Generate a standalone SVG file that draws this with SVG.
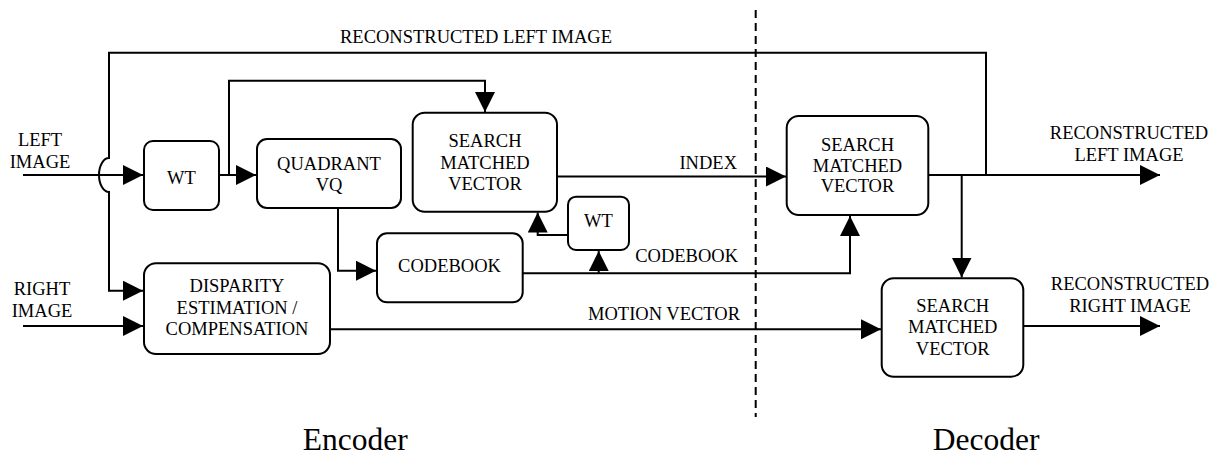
<svg xmlns="http://www.w3.org/2000/svg" width="1220" height="457" viewBox="0 0 1220 457">
<style>
.box{fill:#fff;stroke:#000;stroke-width:2}
.ln{fill:none;stroke:#000;stroke-width:2}
.t{font-family:"Liberation Serif","Times New Roman",serif;font-size:18.5px;fill:#000;text-anchor:middle}
.e{text-anchor:end}
.s{text-anchor:start}
.big{font-family:"Liberation Serif","Times New Roman",serif;font-size:31.5px;fill:#000}
</style>
<defs>
<marker id="ah" markerUnits="userSpaceOnUse" markerWidth="20" markerHeight="20" refX="20" refY="10" orient="auto" viewBox="0 0 20 20">
<path d="M0,0 L20,10 L0,20 z" fill="#000"/>
</marker>
</defs>
<rect width="1220" height="457" fill="#fff"/>
<g id="connectors">
<path class="ln" d="M23,175 L143,175" marker-end="url(#ah)"/>
<path class="ln" d="M219,175 L256,175" marker-end="url(#ah)"/>
<path class="ln" d="M229,175 L229,80.7 L485,80.7 L485,112" marker-end="url(#ah)"/>
<path class="ln" d="M557,176.5 L786,176.5" marker-end="url(#ah)"/>
<path class="ln" d="M338,208 L338,270.7 L376,270.7" marker-end="url(#ah)"/>
<path class="ln" d="M522.7,273.3 L850,273.3 L850,216" marker-end="url(#ah)"/>
<path class="ln" d="M598.7,273.3 L598.7,251" marker-end="url(#ah)"/>
<path class="ln" d="M568,235 L537.7,235 L537.7,212.5" marker-end="url(#ah)"/>
<path class="ln" d="M986,175 L986,52.7 L109,52.7 L109,158 A10,17 0 0 0 109,192 L109,290.7 L143,290.7" marker-end="url(#ah)"/>
<path class="ln" d="M928.3,175 L1160,175" marker-end="url(#ah)"/>
<path class="ln" d="M961.7,175 L961.7,277.5" marker-end="url(#ah)"/>
<path class="ln" d="M23,326 L143,326" marker-end="url(#ah)"/>
<path class="ln" d="M330,329.3 L881,329.3" marker-end="url(#ah)"/>
<path class="ln" d="M1023.3,326 L1160,326" marker-end="url(#ah)"/>
<path class="ln" d="M755.7,10 L755.7,417" stroke-dasharray="8,5"/>
</g>
<g id="wt1"><rect class="box" x="144" y="141" width="75" height="69" rx="9"/><text class="t" x="181.5" y="184">WT</text></g>
<g id="qvq"><rect class="box" x="257" y="139" width="144" height="69" rx="10"/><text class="t" x="329" y="169.5">QUADRANT</text><text class="t" x="329" y="191">VQ</text></g>
<g id="smv1"><rect class="box" x="412.7" y="112.7" width="144.3" height="99" rx="12"/><text class="t" x="485" y="147">SEARCH</text><text class="t" x="485" y="168.5">MATCHED</text><text class="t" x="485" y="190">VECTOR</text></g>
<g id="wt2"><rect class="box" x="568" y="196.7" width="61" height="53.3" rx="8"/><text class="t" x="598.5" y="227.3">WT</text></g>
<g id="codebook"><rect class="box" x="377" y="233.3" width="145.7" height="69" rx="10"/><text class="t" x="449.5" y="272.3">CODEBOOK</text></g>
<g id="disparity"><rect class="box" x="144" y="263.3" width="186" height="90.7" rx="12"/><text class="t" x="237" y="292.3">DISPARITY</text><text class="t" x="237" y="314">ESTIMATION /</text><text class="t" x="237" y="335">COMPENSATION</text></g>
<g id="smv2"><rect class="box" x="786.7" y="116" width="141.6" height="99" rx="12"/><text class="t" x="857.5" y="151">SEARCH</text><text class="t" x="857.5" y="171.7">MATCHED</text><text class="t" x="857.5" y="192.3">VECTOR</text></g>
<g id="smv3"><rect class="box" x="881.7" y="278.3" width="141.6" height="98.4" rx="12"/><text class="t" x="952.7" y="311.7">SEARCH</text><text class="t" x="952.7" y="333.3">MATCHED</text><text class="t" x="952.7" y="355">VECTOR</text></g>
<g id="labels">
<text class="t" x="40" y="146">LEFT</text><text class="t" x="40" y="168">IMAGE</text>
<text class="t" x="42" y="295">RIGHT</text><text class="t" x="42" y="316.7">IMAGE</text>
<text class="t s" x="340" y="42.5">RECONSTRUCTED LEFT IMAGE</text>
<text class="t e" x="737" y="169.3">INDEX</text>
<text class="t e" x="738" y="262.3">CODEBOOK</text>
<text class="t e" x="740" y="320">MOTION VECTOR</text>
<text class="t" x="1129" y="139">RECONSTRUCTED</text><text class="t" x="1129" y="160.5">LEFT IMAGE</text>
<text class="t" x="1130" y="290">RECONSTRUCTED</text><text class="t" x="1130" y="311.7">RIGHT IMAGE</text>
<text class="big" x="302.7" y="449.5">Encoder</text>
<text class="big" x="932.7" y="450">Decoder</text>
</g>
</svg>
